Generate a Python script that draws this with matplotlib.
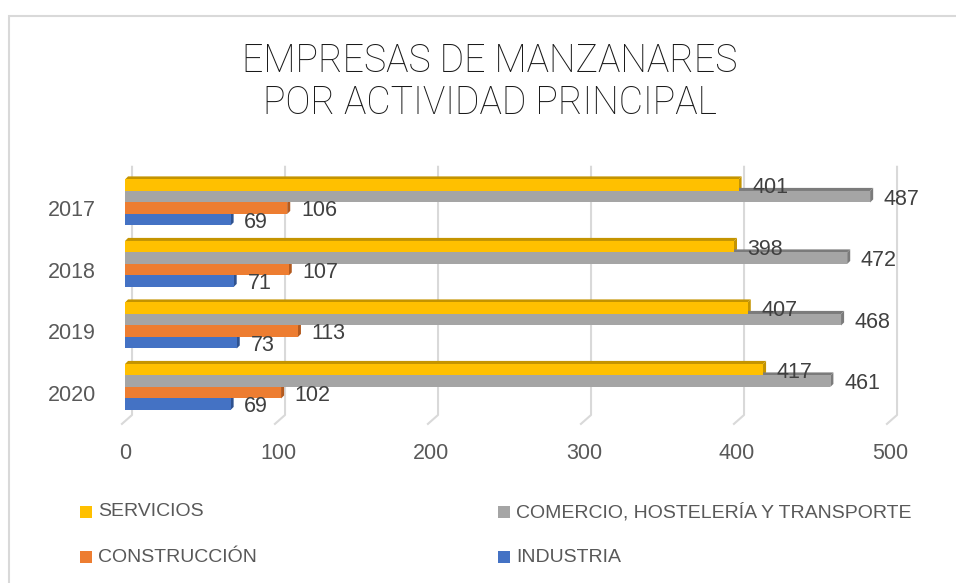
import matplotlib.pyplot as plt
from matplotlib.patches import Polygon, Rectangle

plt.rcParams['font.family'] = ['Liberation Sans', 'DejaVu Sans']

# datos
anios = ['2017', '2018', '2019', '2020']
servicios = [401, 398, 407, 417]
comercio = [487, 472, 468, 461]
construccion = [106, 107, 113, 102]
industria = [69, 71, 73, 69]

series = [
    ('SERVICIOS', servicios, '#FFC000', '#C49400'),
    ('COMERCIO, HOSTELERÍA Y TRANSPORTE', comercio, '#A5A5A5', '#7B7B7B'),
    ('CONSTRUCCIÓN', construccion, '#ED7D31', '#B35A1F'),
    ('INDUSTRIA', industria, '#4472C4', '#2F528F'),
]

W, H = 956, 583
fig = plt.figure(figsize=(W / 100, H / 100), dpi=100)

# marco del grafico
fig.patches.append(Rectangle((9 / W, -0.1), 1.2, 1 - 16 / H + 0.1, transform=fig.transFigure,
                             fill=False, edgecolor='#D9D9D9', linewidth=1.5))

ax = fig.add_axes([125 / W, 1 - 423.9 / H, 765 / W, 257.1 / H])
ax.set_xlim(0, 500)
ax.set_ylim(3.6, -0.58)
for s in ax.spines.values():
    s.set_visible(False)

# lineas de cuadricula con efecto 3D
for t in range(0, 501, 100):
    ax.plot([t + 4.6, t + 4.6, t - 2.0], [-0.58, 3.455, 3.6], color='#D9D9D9',
            linewidth=1.5, zorder=1, clip_on=False)

h = 0.187
dx = 2.0
dy = 0.05
for k, (nombre, valores, color, oscuro) in enumerate(series):
    for i, v in enumerate(valores):
        yc = i + (k - 1.5) * h
        y0 = yc - h / 2
        y1 = yc + h / 2
        # cara superior y lateral
        ax.add_patch(Polygon([(0, y0), (v, y0), (v + dx, y0 - dy), (dx, y0 - dy)],
                             closed=True, facecolor=oscuro, edgecolor='none', zorder=2))
        ax.add_patch(Polygon([(v, y0), (v + dx, y0 - dy), (v + dx, y1 - dy), (v, y1)],
                             closed=True, facecolor=oscuro, edgecolor='none', zorder=2))
        ax.barh(yc, v, height=h, color=color, zorder=3)
        ax.text(v + 9, yc + 0.04, str(v), ha='left', va='center', fontsize=15.5,
                color='#404040', zorder=4)

ax.set_yticks([i + 0.09 for i in range(len(anios))])
ax.set_yticklabels(anios)
ax.set_xticks(range(0, 501, 100))
ax.tick_params(axis='y', length=0, pad=21, labelsize=15.5, labelcolor='#595959')
ax.tick_params(axis='x', length=0, pad=14, labelsize=15.5, labelcolor='#595959')

for texto, py in [('EMPRESAS DE MANZANARES', 61), ('POR ACTIVIDAD PRINCIPAL', 103)]:
    fig.text(490 / W, 1 - py / H, texto, ha='center', va='center', fontsize=27,
             family=['Roboto', 'DejaVu Sans'], fontweight='light', color='#1A1A1A')

# leyenda
pos_leyenda = [(80, 512), (498, 512), (80, 557), (498, 557)]
for (nombre, valores, color, oscuro), (px, py) in zip(series, pos_leyenda):
    fig.patches.append(Rectangle((px / W, 1 - (py + 6) / H), 12 / W, 12 / H,
                                 transform=fig.transFigure, facecolor=color, edgecolor='none'))
    fig.text((px + 18) / W, 1 - py / H, nombre, ha='left', va='center', fontsize=14,
             color='#595959')

fig.savefig('out.png', dpi=100)
